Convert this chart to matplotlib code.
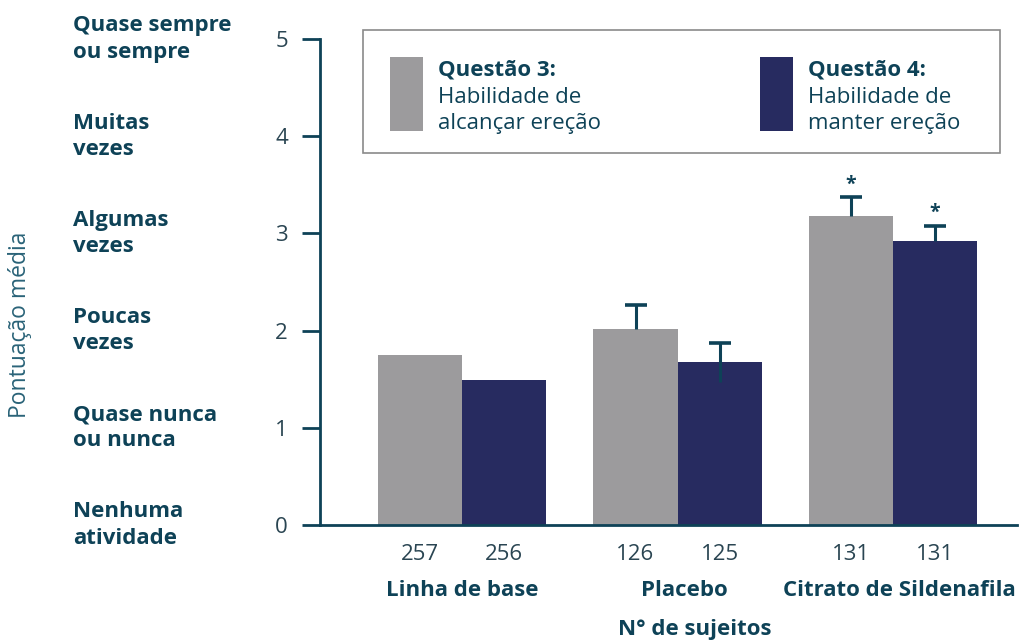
import matplotlib
matplotlib.use("Agg")
import matplotlib.pyplot as plt
import matplotlib.patches as mpatches
import matplotlib.transforms as mtrans
import numpy as np

plt.rcParams['font.family'] = ['Open Sans', 'DejaVu Sans']

# data
groups = ["Linha de base", "Placebo", "Citrato de Sildenafila"]
q3 = [1.75, 2.02, 3.18]
q4 = [1.49, 1.68, 2.92]
q3_err_up = [0, 0.24, 0.19]
q4_err_up = [0, 0.19, 0.16]
q4_err_down = [0, 0.21, 0]
n_q3 = [257, 126, 131]
n_q4 = [256, 125, 131]
signif = [False, False, True]
scale_labels = ["Nenhuma\natividade", "Quase nunca\nou nunca", "Poucas\nvezes",
                "Algumas\nvezes", "Muitas\nvezes", "Quase sempre\nou sempre"]
legend_titles = ["Questão 3:", "Questão 4:"]
legend_texts = ["Habilidade de\nalcançar ereção", "Habilidade de\nmanter ereção"]

grey = "#9c9b9d"
navy = "#272b60"
teal = "#0e4257"
fs = 16

W, H = 1021, 641
fig = plt.figure(figsize=(W / 100, H / 100), dpi=100)
ax = fig.add_axes([320 / W, 1 - 525 / H, (1017 - 320) / W, (525 - 39) / H])

x = np.arange(len(groups))
w = 0.39
ax.bar(x - w / 2, q3, w, color=grey, zorder=2)
ax.bar(x + w / 2, q4, w, color=navy, zorder=2)

# error bars: whisker up to a cap, plain line below the bar top where it shows
for xs, vals, up, down in [(x - w / 2, q3, q3_err_up, [0] * 3),
                           (x + w / 2, q4, q4_err_up, q4_err_down)]:
    for i in range(len(groups)):
        if up[i] > 0:
            top = vals[i] + up[i]
            ax.vlines(xs[i], vals[i] - down[i], top, color=teal, lw=2.2, zorder=3)
            ax.plot(xs[i], top, marker="_", markersize=16, mew=2.6, color=teal, zorder=3)
        if signif[i]:
            ax.text(xs[i], vals[i] + up[i] + 0.03, "*", ha="center", va="bottom",
                    fontsize=14, color=teal, fontweight="bold")

ax.set_xlim(-0.659, 2.575)
ax.set_ylim(0, 5)
for s in ["top", "right"]:
    ax.spines[s].set_visible(False)
for s in ["left", "bottom"]:
    ax.spines[s].set_color(teal)
    ax.spines[s].set_linewidth(2)

ax.set_yticks(range(6))
ax.tick_params(axis="y", length=13, width=2, color=teal, labelsize=fs,
               labelcolor="#2a4552", pad=10)

ticks = np.concatenate([x - w / 2, x + w / 2])
labels = [str(v) for v in n_q3 + n_q4]
ax.set_xticks(ticks)
ax.set_xticklabels(labels)
ax.tick_params(axis="x", length=0, labelsize=fs, labelcolor="#2a4552", pad=14)

tr_x = mtrans.blended_transform_factory(ax.transData, ax.transAxes)
offsets = [0, 0.03, 0.03]
for i, g in enumerate(groups):
    ax.text(x[i] + offsets[i], -0.134, g, transform=tr_x, ha="center",
            va="center", fontsize=fs, fontweight="bold", color=teal)
ax.text(x[1] + 0.08, -0.216, "N° de sujeitos", transform=tr_x, ha="center", va="center",
        fontsize=fs, fontweight="bold", color=teal)

tr_y = mtrans.blended_transform_factory(fig.transFigure, ax.transData)
for v, lab in enumerate(scale_labels):
    ax.text(73 / W, v, lab, transform=tr_y, ha="left", va="center", fontsize=fs,
            fontweight="bold", color=teal, linespacing=1.33)

fig.text(20 / W, 1 - 325 / H, "Pontuação média", rotation=90, ha="center", va="center",
         fontsize=16.5, color="#2a6378")

# legend box drawn in figure pixels
def fr(px, py, pw, ph):
    return (px / W, 1 - (py + ph) / H), pw / W, ph / H

xy, bw, bh = fr(363, 30, 637, 123)
fig.add_artist(mpatches.Rectangle(xy, bw, bh, transform=fig.transFigure,
                                  facecolor="white", edgecolor="#8a8a8a", lw=1.2))
for cx, col, t1, t2 in [(390, grey, legend_titles[0], legend_texts[0]),
                        (760, navy, legend_titles[1], legend_texts[1])]:
    xy, pw, ph = fr(cx, 57, 33, 74)
    fig.add_artist(mpatches.Rectangle(xy, pw, ph, transform=fig.transFigure,
                                      facecolor=col, edgecolor="none"))
    fig.text((cx + 48) / W, 1 - 70 / H, t1, ha="left", va="center", fontsize=fs,
             fontweight="bold", color=teal)
    fig.text((cx + 48) / W, 1 - 110.5 / H, t2, ha="left", va="center", fontsize=fs,
             color=teal, linespacing=1.33)

fig.savefig("out.png", dpi=100)
